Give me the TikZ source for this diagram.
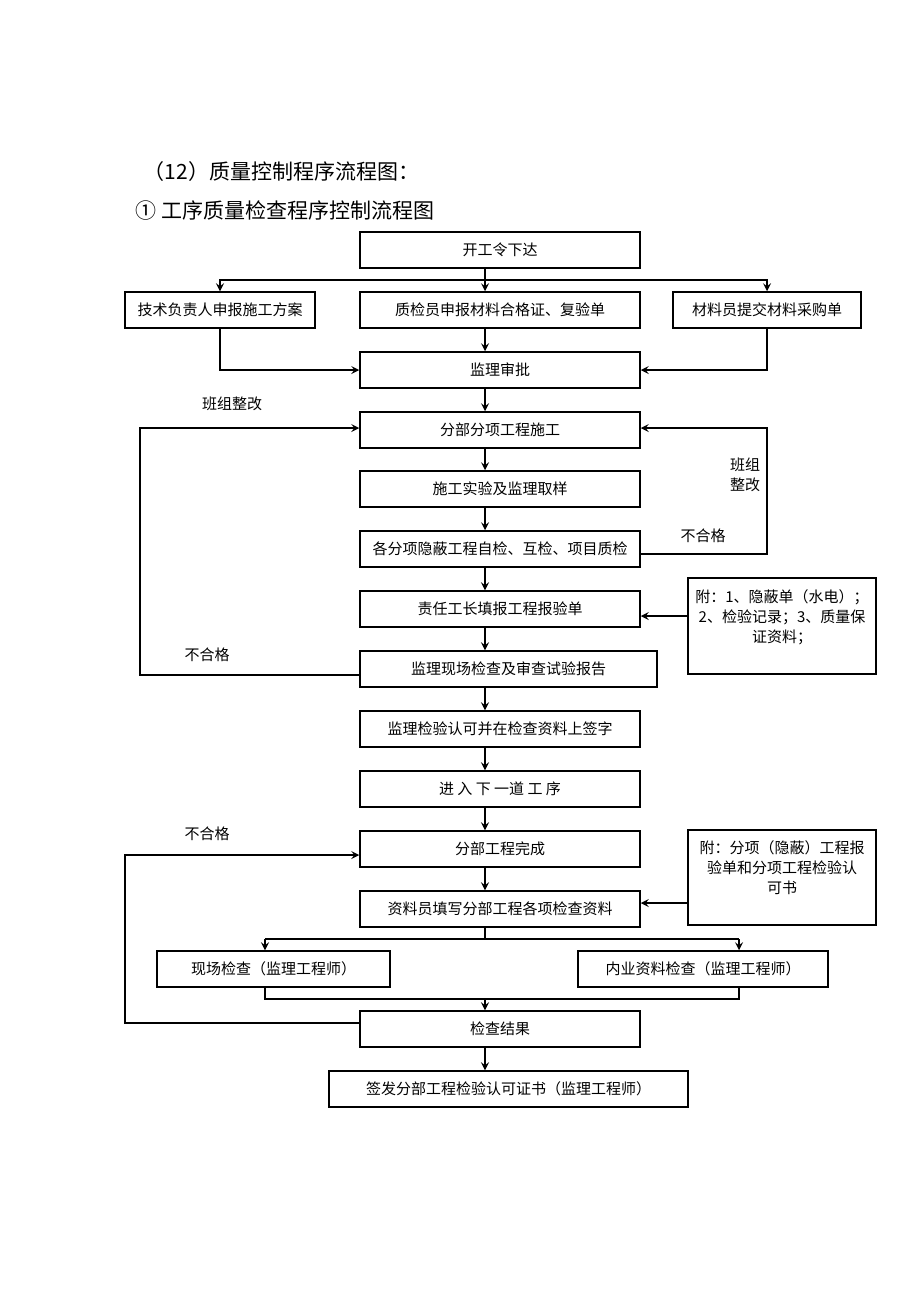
\documentclass[tikz,border=0pt]{standalone}
\usepackage{fontspec}
\newfontfamily\cjk{Noto Sans CJK SC}
\tikzset{
  box/.style={draw,line width=0.75pt,minimum width=140pt,minimum height=18pt,inner sep=1pt,
    font=\cjk\fontsize{7.5}{10}\selectfont},
  notebox/.style={box,minimum width=94pt,minimum height=48pt,align=center},
  lbl/.style={inner sep=0pt,font=\cjk\fontsize{7.5}{10}\selectfont},
  ttl/.style={inner sep=0pt,anchor=west,font=\cjk\fontsize{10.5}{12}\selectfont}
}
\begin{document}
\begin{tikzpicture}[x=0.5pt,y=-0.5pt,>=stealth,line width=0.75pt]
\useasboundingbox (0,0) rectangle (920,1302);
% titles
\node[ttl] (t1) at (143,172) {（12）质量控制程序流程图：};
\node[ttl] (t2) at (135,211) {① 工序质量检查程序控制流程图};
% boxes
\node[box] (start) at (500,250) {开工令下达};
\node[box,minimum width=95pt] (plan) at (220,310) {技术负责人申报施工方案};
\node[box] (cert) at (500,310) {质检员申报材料合格证、复验单};
\node[box,minimum width=94pt] (buy) at (767,310) {材料员提交材料采购单};
\node[box] (approve) at (500,370) {监理审批};
\node[box] (work) at (500,430) {分部分项工程施工};
\node[box] (sample) at (500,489) {施工实验及监理取样};
\node[box] (selfchk) at (500,549) {各分项隐蔽工程自检、互检、项目质检};
\node[box] (report) at (500,609) {责任工长填报工程报验单};
\node[box,minimum width=148.5pt] (site) at (508.5,669) {监理现场检查及审查试验报告};
\node[box] (sign) at (500,729) {监理检验认可并在检查资料上签字};
\node[box] (next) at (500,789) {进 入 下 一道 工 序};
\node[box] (done) at (500,849) {分部工程完成};
\node[box] (fill) at (500,909) {资料员填写分部工程各项检查资料};
\node[box,minimum width=116.5pt] (field) at (273.5,969) {现场检查（监理工程师）};
\node[box,minimum width=125pt] (docs) at (703,969) {内业资料检查（监理工程师）};
\node[box] (result) at (500,1029) {检查结果};
\node[box,minimum width=179.5pt] (issue) at (508.5,1089) {签发分部工程检验认可证书（监理工程师）};
\node[notebox] (note1) at (782,626) {附：1、隐蔽单（水电）；\\2、检验记录；3、质量保\\证资料；\\~};
\node[notebox,minimum height=47.5pt] (note2) at (782,877.5) {附：分项（隐蔽）工程报\\验单和分项工程检验认\\可书\\~};
% labels
\node[lbl] (fix1) at (232,404) {班组整改};
\node[lbl] (fail1) at (207,655) {不合格};
\node[lbl,align=center] (fix2) at (745,475) {班组\\整改};
\node[lbl] (fail2) at (703,536) {不合格};
\node[lbl] (fail3) at (207,834) {不合格};
% helper points
\path
(485,0) coordinate (col)
(485,280) coordinate (b1)
(767,554) coordinate (r1)
(767,428) coordinate (r2)
(140,675) coordinate (l1)
(140,428) coordinate (l1t)
(688,616) coordinate (n1)
(688,903) coordinate (n2)
(485,939) coordinate (b2)
(265,939) coordinate (b2l)
(739,939) coordinate (b2r)
(265,999) coordinate (m1)
(739,999) coordinate (m2)
(125,1023) coordinate (l2)
(125,855) coordinate (l2t);
% connectors
\draw (col |- start.south) -- (b1);
\draw[->] (b1) -| (plan.north);
\draw[->] (b1) -| (buy.north);
\draw[->] (b1) -- (col |- cert.north);
\draw[->] (plan.south) |- (approve.west);
\draw[->] (buy.south) |- (approve.east);
\draw[->] (col |- cert.south) -- (col |- approve.north);
\draw[->] (col |- approve.south) -- (col |- work.north);
\draw[->] (col |- work.south) -- (col |- sample.north);
\draw[->] (col |- sample.south) -- (col |- selfchk.north);
\draw[->] (col |- selfchk.south) -- (col |- report.north);
\draw[->] (col |- report.south) -- (col |- site.north);
\draw[->] (col |- site.south) -- (col |- sign.north);
\draw[->] (col |- sign.south) -- (col |- next.north);
\draw[->] (col |- next.south) -- (col |- done.north);
\draw[->] (col |- done.south) -- (col |- fill.north);
\draw[->] (selfchk.east |- r1) -- (r1) -- (r2) -- (work.east |- r2);
\draw[->] (site.west |- l1) -- (l1) -- (l1t) -- (work.west |- l1t);
\draw[->] (n1) -- (report.east |- n1);
\draw[->] (n2) -- (fill.east |- n2);
\draw (col |- fill.south) -- (b2);
\draw (b2l) -- (b2r);
\draw[->] (b2l) -- (b2l |- field.north);
\draw[->] (b2r) -- (b2r |- docs.north);
\draw (m1 |- field.south) -- (m1) -- (m2) -- (m2 |- docs.south);
\draw[->] (col |- m1) -- (col |- result.north);
\draw[->] (result.west |- l2) -- (l2) -- (l2t) -- (done.west |- l2t);
\draw[->] (col |- result.south) -- (col |- issue.north);
\end{tikzpicture}
\end{document}
